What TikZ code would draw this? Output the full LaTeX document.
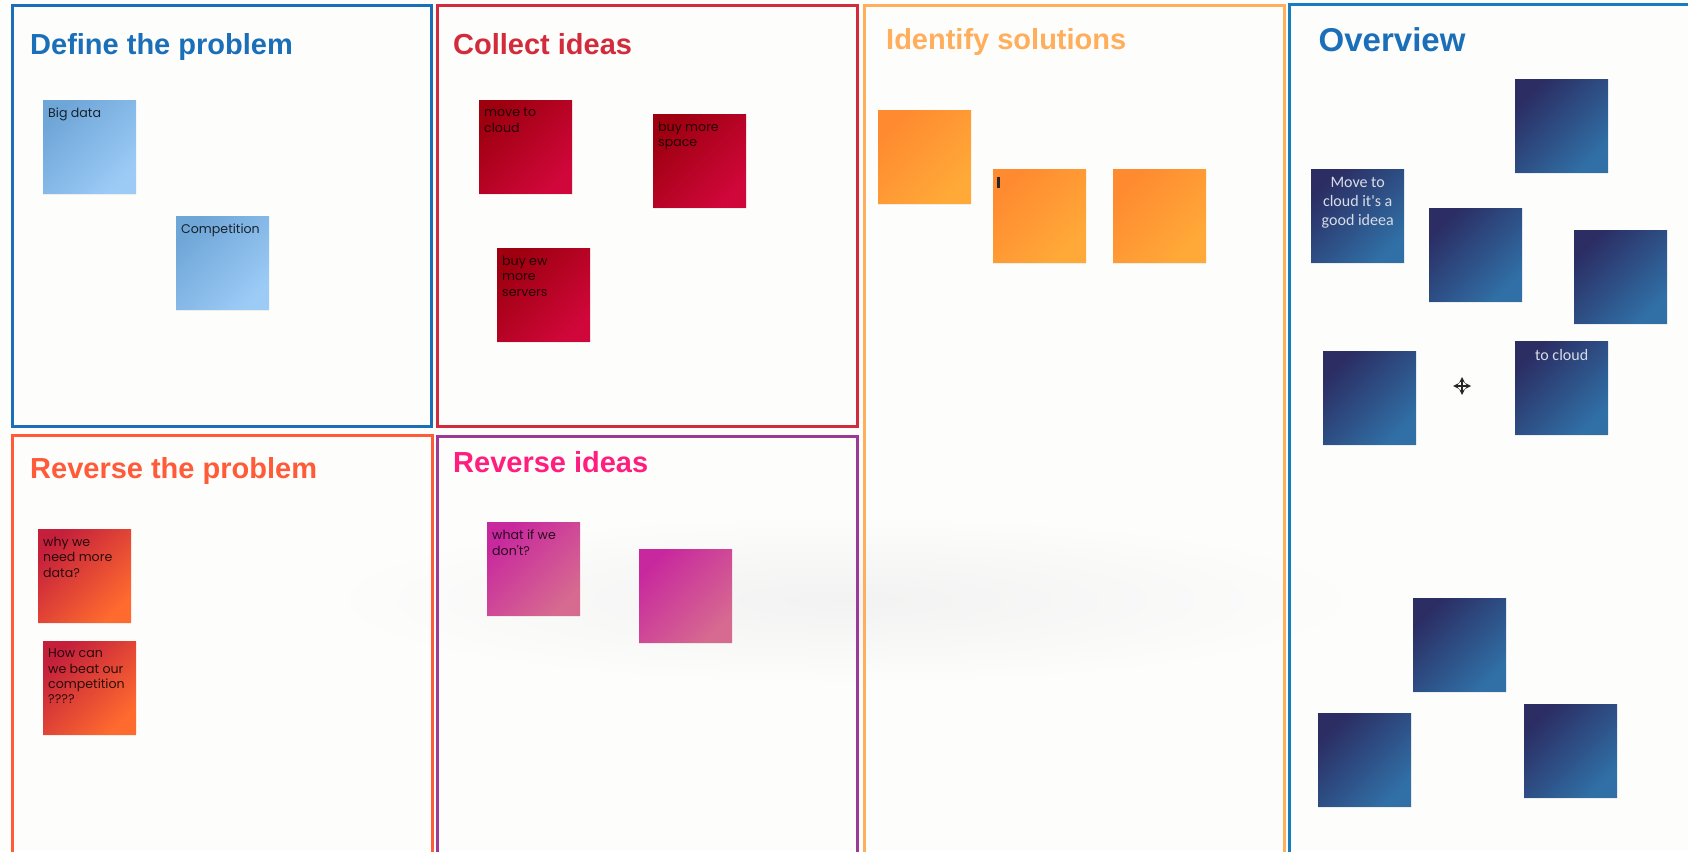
\documentclass[tikz,border=0pt]{standalone}
\usepackage{fontspec}
\newfontfamily\headfont{Liberation Sans}
\newfontfamily\notefont{Poppins}
\newfontfamily\cardfont{Carlito}
\usetikzlibrary{shadows}

\definecolor{paper}{HTML}{FDFDFC}
\definecolor{defblue}{HTML}{1B6FB8}
\definecolor{ideared}{HTML}{D22B3C}
\definecolor{solorange}{HTML}{FFAE5C}
\definecolor{revorange}{HTML}{FF5B38}
\definecolor{revpink}{HTML}{FF1E7E}
\definecolor{revpurple}{HTML}{9A3A94}
\definecolor{skyA}{HTML}{6FA6D8}
\definecolor{skyB}{HTML}{9CCBF6}
\definecolor{wineA}{HTML}{9E0010}
\definecolor{wineB}{HTML}{D0073A}
\definecolor{amberA}{HTML}{FF8A30}
\definecolor{amberB}{HTML}{FFAA38}
\definecolor{navyA}{HTML}{2B2D63}
\definecolor{navyB}{HTML}{3070A6}
\definecolor{emberA}{HTML}{C4203C}
\definecolor{emberB}{HTML}{FF6A2E}
\definecolor{orchidA}{HTML}{C8289E}
\definecolor{orchidB}{HTML}{D66A90}
\definecolor{cardtxt}{HTML}{D9DCE8}

\tikzset{
  panel/.style={line width=3pt},
  heading/.style={anchor=base west, inner sep=0pt, font=\headfont\bfseries\fontsize{29}{34}\selectfont},
  note/.style={anchor=north west, minimum width=93pt, minimum height=93pt, inner sep=0pt,
    drop shadow={opacity=.12, shadow xshift=0pt, shadow yshift=-2pt}},
  skynote/.style={note, top color=skyA, bottom color=skyB, shading angle=45},
  winenote/.style={note, top color=wineA, bottom color=wineB, shading angle=45},
  ambernote/.style={note, top color=amberA, bottom color=amberB, shading angle=45},
  navynote/.style={note, top color=navyA, bottom color=navyB, shading angle=45},
  embernote/.style={note, top color=emberA, bottom color=emberB, shading angle=45},
  orchidnote/.style={note, top color=orchidA, bottom color=orchidB, shading angle=45},
  memo/.style={anchor=north west, inner sep=0pt, align=left, text=black, text opacity=.8,
    font=\notefont\fontsize{12.6}{15.3}\selectfont},
  cardtext/.style={anchor=north, inner sep=0pt, align=center, text=cardtxt,
    font=\cardfont\fontsize{16}{19}\selectfont},
}

\begin{document}
\begin{tikzpicture}[x=1pt, y=-1pt]
\clip (0,0) rectangle (1688,851);
\fill[paper] (0,0) rectangle (1688,851);
\shade[inner color=black!5, outer color=paper] (845,600) ellipse (520pt and 85pt);

\begin{scope}[shift={(12,6)}]
\draw[panel, defblue] (0,0) rectangle (419,420);
\node[heading, text=defblue] (defineT) at (18,49) {Define the problem};
\foreach \n/\x/\y/\t in {bigdata/31/94/{Big data}, competition/164/210/Competition} {
  \node[skynote] (\n) at (\x,\y) {};
  \node[memo] (\n-txt) at ([xshift=5pt,yshift=-8pt]\n.north west) {\t};
}
\end{scope}

\begin{scope}[shift={(437,6)}]
\draw[panel, ideared] (0,0) rectangle (420,420);
\node[heading, text=ideared] (collectT) at (16,49) {Collect ideas};
\foreach \n/\x/\y/\t in {cloud/42/94/{move to\\cloud}, space/216/108/{buy more\\space},
                         servers/60/242/{buy ew\\more\\servers}} {
  \node[winenote] (\n) at (\x,\y) {};
  \node[memo] (\n-txt) at ([xshift=5pt,yshift=-8pt]\n.north west) {\t};
}
\end{scope}

\begin{scope}[shift={(864,5.5)}]
\draw[panel, solorange] (0,0) rectangle (420,900);
\node[heading, text=solorange] (identifyT) at (22,44.5) {Identify solutions};
\foreach \n/\x/\y in {sol1/14/104.5, sol2/129/163.5, sol3/249/163.5} {
  \node[ambernote] (\n) at (\x,\y) {};
}
\fill[black!85] ([xshift=4pt,yshift=-8pt]sol2.north west) rectangle ++(3,11);
\end{scope}

\begin{scope}[shift={(1289.5,5)}]
\draw[panel, defblue!90!cyan] (0,0) rectangle (500,900);
\node[heading, text=defblue, font=\headfont\bfseries\fontsize{33}{38}\selectfont] (overviewT) at (29,47) {Overview};
\foreach \n/\x/\y in {ov1/225.5/74, ov2/21.5/164, ov3/139.5/203, ov4/284.5/225, ov5/33.5/346,
                      ov6/225.5/336, ov7/123.5/593, ov8/28.5/708, ov9/234.5/699} {
  \node[navynote] (\n) at (\x,\y) {};
}
\node[cardtext] (ov2-txt) at ([yshift=-8pt]ov2.north) {Move to\\cloud it's a\\good ideea};
\node[cardtext] (ov6-txt) at ([yshift=-8pt]ov6.north) {to cloud};
\coordinate (grab) at (172.5,381);
\draw[<->, >=stealth, line width=1.6pt, black!85] ([xshift=-9pt]grab) -- ([xshift=9pt]grab);
\draw[<->, >=stealth, line width=1.6pt, black!85] ([yshift=-9pt]grab) -- ([yshift=9pt]grab);
\end{scope}

\begin{scope}[shift={(12.5,435.5)}]
\draw[panel, revorange] (0,0) rectangle (419.5,500);
\node[heading, text=revorange] (reverseT) at (17.5,42.5) {Reverse the problem};
\foreach \n/\x/\y/\t in {moredata/25.5/93.5/{why we\\need more\\data?},
                         beatus/30.5/205.5/{How can\\we beat our\\competition\\????}} {
  \node[embernote] (\n) at (\x,\y) {};
  \node[memo] (\n-txt) at ([xshift=5pt,yshift=-8pt]\n.north west) {\t};
}
\end{scope}

\begin{scope}[shift={(437,436)}]
\draw[panel, revpurple] (0,0) rectangle (420,500);
\node[heading, text=revpink] (revideasT) at (16,36) {Reverse ideas};
\node[orchidnote] (whatif) at (50,86) {};
\node[memo] (whatif-txt) at ([xshift=5pt,yshift=-8pt]whatif.north west) {what if we\\don't?};
\node[orchidnote] (orchid2) at (202,113) {};
\end{scope}
\end{tikzpicture}
\end{document}
